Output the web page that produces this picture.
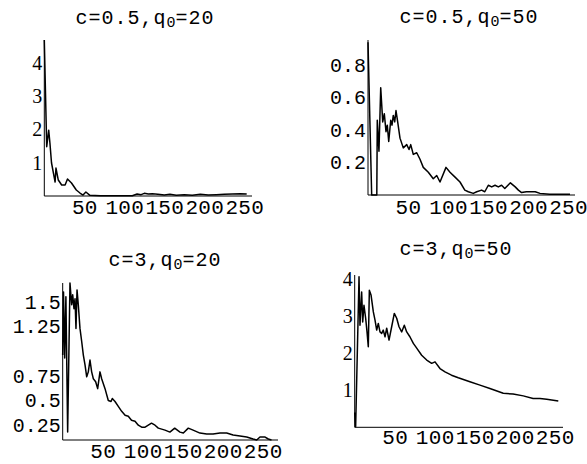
<!DOCTYPE html>
<html>
<head>
<meta charset="utf-8">
<script src="https://cdn.jsdelivr.net/npm/d3@7"></script>
<style>
  body { margin: 0; background: #fff; }
  svg { display: block; }
</style>
</head>
<body>
<div id="chart"></div>
<script>
// panel labels
var cValues = ['0.5', '0.5', '3', '3']
var q0Values = ['20', '50', '20', '50']

var xTicks = [50, 100, 150, 200, 250]
var yTicks1 = [1, 2, 3, 4]
var yTicks2 = [0.2, 0.4, 0.6, 0.8]
var yTicks3 = [0.25, 0.5, 0.75, 1.25, 1.5]
var yTicks4 = [1, 2, 3, 4]

// c=0.5, q0=20
var t1 = [0, 3, 5.5, 7, 9, 13.5, 14.6, 17.5, 21.7, 26, 29, 34, 40, 44.6, 48.4, 52, 57, 70, 90, 110,
  116, 121, 125, 130, 135, 142, 150, 157, 165, 175, 185, 195, 205, 215, 225, 235, 245, 253]
var v1 = [4.69, 1.48, 1.98, 1.6, 1.0, 0.42, 0.84, 0.48, 0.33, 0.33, 0.51, 0.39, 0.18, 0.09, 0.03, 0.12, 0.02, 0.01, 0.01, 0.01,
  0.06, 0.04, 0.08, 0.06, 0.07, 0.05, 0.03, 0.05, 0.02, 0.04, 0.02, 0.05, 0.03, 0.04, 0.05, 0.06, 0.07, 0.06]

// c=0.5, q0=50
var t2 = [0, 4.6, 11, 11.6, 13.7, 15.9, 18.4, 20.4, 22.5, 24.1, 25.9, 28.4, 30, 31.6, 33.4, 35, 37.1, 40, 44.1, 48.4,
  51.3, 53.4, 56.6, 60.9, 65, 69.1, 75.4, 81.6, 85.9, 90, 97.5, 102.5, 108.8, 115, 121, 125.4, 131.6, 135.9, 142, 146,
  150.4, 154.6, 158.8, 162.9, 167, 171, 178, 184, 188, 192, 198, 209, 215, 227, 252.5]
var v2 = [0.94, 0, 0, 0.46, 0.27, 0.66, 0.45, 0.50, 0.39, 0.43, 0.33, 0.46, 0.43, 0.49, 0.45, 0.52, 0.45, 0.35, 0.29, 0.31,
  0.28, 0.31, 0.25, 0.26, 0.22, 0.17, 0.14, 0.10, 0.12, 0.08, 0.17, 0.14, 0.11, 0.08, 0.03, 0.02, 0.01, 0.02, 0.03, 0.02,
  0.06, 0.05, 0.06, 0.05, 0.06, 0.04, 0.075, 0.05, 0.03, 0.015, 0.02, 0.02, 0.01, 0.005, 0.005]

// c=3, q0=20
var t3 = [0, 1, 2.5, 4, 6.2, 9.1, 11.2, 12.5, 14.1, 15.4, 16.6, 17.9, 19.5, 21.6, 23.7, 25.8, 27.9, 30, 32, 34.1,
  36.2, 38.3, 41.2, 43.7, 46.6, 48.7, 52.9, 57, 60.4, 62, 65.4, 69.5, 73.7, 78, 82, 86, 90.4, 94.5, 98.7, 103,
  107, 111, 115.4, 119.5, 123.7, 127.9, 134, 140, 146.6, 150.8, 157, 163, 171.6, 180, 188, 196.6, 205, 213, 221.6, 230,
  238, 242.5, 246.6, 253, 257, 261]
var v3 = [0.96, 1.6, 0.93, 1.55, 0.18, 1.69, 1.47, 1.57, 1.43, 1.53, 1.23, 1.62, 1.47, 1.23, 1.1, 0.96, 0.86, 0.74, 0.79, 0.91,
  0.79, 0.72, 0.69, 0.62, 0.79, 0.72, 0.62, 0.5, 0.49, 0.52, 0.49, 0.44, 0.39, 0.35, 0.34, 0.30, 0.29, 0.25, 0.23, 0.23,
  0.25, 0.27, 0.25, 0.22, 0.21, 0.2, 0.18, 0.22, 0.18, 0.17, 0.22, 0.2, 0.17, 0.16, 0.16, 0.17, 0.17, 0.15, 0.14, 0.13,
  0.11, 0.10, 0.13, 0.13, 0.11, 0.10]

// c=3, q0=50
var t4 = [0, 1.2, 5.4, 6.6, 8.7, 10, 11.6, 13.7, 15.4, 17, 18.3, 20.4, 23.3, 25.4, 27.5, 29.5, 31.6, 33.7, 35.7, 37.9,
  40, 42.9, 46.2, 49.5, 52.5, 55.4, 58.7, 62, 65, 69, 73.3, 77.5, 83.7, 90, 96.2, 100.4, 106.6, 112.9, 121, 129.5,
  144, 156.6, 169, 185.7, 198, 210.7, 223, 231.6, 240, 254.5]
var v4 = [0.4, 0.02, 4.07, 2.76, 3.66, 2.85, 3.3, 2.95, 2.58, 2.18, 3.71, 3.58, 3.12, 2.9, 2.63, 2.81, 2.58, 2.54, 2.63, 2.45,
  2.68, 2.36, 2.72, 3.08, 2.95, 2.72, 2.58, 2.76, 2.58, 2.45, 2.27, 2.14, 1.95, 1.82, 1.73, 1.77, 1.59, 1.5, 1.41, 1.34,
  1.23, 1.14, 1.05, 0.92, 0.9, 0.85, 0.78, 0.78, 0.76, 0.71]

var width = 587
var height = 464

var svg = d3
  .select('#chart')
  .append('svg')
  .attr('width', width)
  .attr('height', height)
  .style('background', '#fff')

// layout of each panel (pixels) -- axisX is where t=0 sits
var panels = [
  { t: t1, v: v1, yTicks: yTicks1, serif: true, axisX: 44.3, x1: 252, yBottom: 196, yTop: 40, yMin: 0, yMax: 4.69,
    titleX: 145, titleY: 24, xPad: 3 },
  { t: t2, v: v2, yTicks: yTicks2, serif: false, axisX: 368, x1: 575, yBottom: 195, yTop: 40, yMin: 0, yMax: 0.954,
    titleX: 469, titleY: 23, xPad: 4 },
  { t: t3, v: v3, yTicks: yTicks3, serif: false, axisX: 62.7, x1: 278, yBottom: 440, yTop: 283, yMin: 0.1, yMax: 1.69,
    titleX: 165, titleY: 266, xPad: 3 },
  { t: t4, v: v4, yTicks: yTicks4, serif: true, axisX: 354.7, x1: 563, yBottom: 427.3, yTop: 275, yMin: 0, yMax: 4.12,
    titleX: 456, titleY: 255, xPad: 2 }
]

var mono = "'Liberation Mono', 'DejaVu Sans Mono', monospace"
var serif = "'Liberation Serif', 'DejaVu Serif', serif"

panels.forEach(function(p, i) {
  var g = svg.append('g')

  var xScale = d3
    .scaleLinear()
    .domain([0, 250])
    .range([p.axisX, p.axisX + 200])

  var yScale = d3
    .scaleLinear()
    .domain([p.yMin, p.yMax])
    .range([p.yBottom, p.yTop])

  var points = p.t.map(function(d, j) {
    return [d, p.v[j]]
  })

  var line = d3
    .line()
    .x(d => xScale(d[0]))
    .y(d => yScale(d[1]))

  // axes lines
  g.append('line')
    .attr('x1', xScale(0))
    .attr('x2', p.x1)
    .attr('y1', yScale(p.yMin))
    .attr('y2', yScale(p.yMin))
    .attr('stroke', 'black')
    .attr('stroke-width', 1)

  g.append('line')
    .attr('x1', xScale(0))
    .attr('x2', xScale(0))
    .attr('y1', yScale(p.yMin))
    .attr('y2', yScale(p.yMax))
    .attr('stroke', 'black')
    .attr('stroke-width', 1)

  // x tick labels
  var xAxis = d3
    .axisBottom(xScale)
    .tickValues(xTicks)
    .tickSize(0)
    .tickPadding(p.xPad)
    .tickFormat(d3.format('d'))

  g.append('g')
    .attr('transform', 'translate(0,' + yScale(p.yMin) + ')')
    .call(xAxis)
    .call(a => a.select('.domain').remove())
    .selectAll('text')
    .attr('font-family', mono)
    .attr('font-size', 21)
    .attr('letter-spacing', 0.3)
    .attr('fill', 'black')

  // y tick labels
  var yAxis = d3
    .axisLeft(yScale)
    .tickValues(p.yTicks)
    .tickSize(0)
    .tickPadding(2)
    .tickFormat(d => String(d))

  g.append('g')
    .attr('transform', 'translate(' + xScale(0) + ',0)')
    .call(yAxis)
    .call(a => a.select('.domain').remove())
    .selectAll('text')
    .attr('font-family', p.serif ? serif : mono)
    .attr('font-size', p.serif ? 20 : 20)
    .attr('fill', 'black')

  // the curve
  g.append('path')
    .datum(points)
    .attr('d', line)
    .attr('fill', 'none')
    .attr('stroke', 'black')
    .attr('stroke-width', 1.5)
    .attr('stroke-linejoin', 'round')

  // title  c=..,q0=..
  var title = g
    .append('text')
    .attr('x', p.titleX)
    .attr('y', p.titleY)
    .attr('text-anchor', 'middle')
    .attr('font-family', mono)
    .attr('font-size', 20)
    .attr('letter-spacing', 1)
    .attr('fill', 'black')

  title.append('tspan').text('c=' + cValues[i] + ',q')
  title
    .append('tspan')
    .attr('font-size', 15)
    .attr('dy', 3)
    .attr('letter-spacing', 0)
    .text('0')
  title
    .append('tspan')
    .attr('dy', -3)
    .text('=' + q0Values[i])
})
</script>
</body>
</html>
